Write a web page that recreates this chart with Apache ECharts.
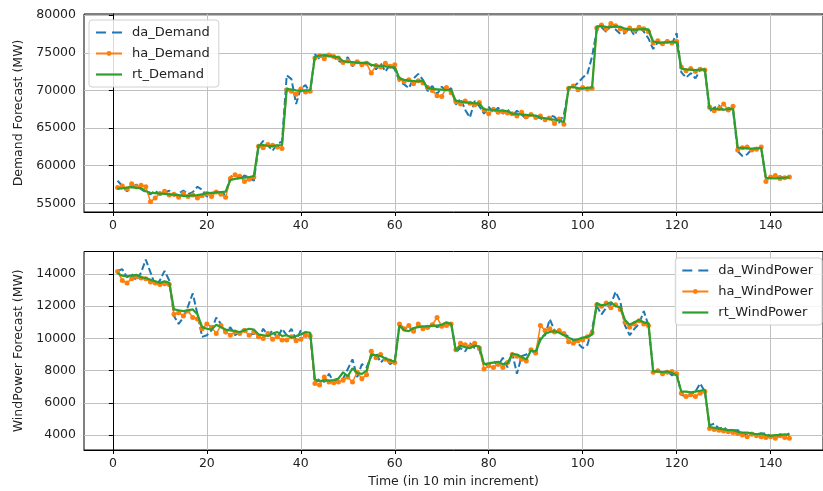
<!DOCTYPE html>
<html><head><meta charset="utf-8">
<script src="https://cdn.jsdelivr.net/npm/echarts@6/dist/echarts.min.js"></script>
<style>html,body{margin:0;padding:0;background:#fff}#c{width:823px;height:491px}</style>
</head><body><div id="c"></div>
<script>
const xTicks = [0,20,40,60,80,100,120,140];
const demandTicks = [55000,60000,65000,70000,75000,80000];
const windTicks = [4000,6000,8000,10000,12000,14000];

const daDemand = [
58000,57300,56600,57100,57500,56900, 56500,56200,56700,56100,56400,56700,
56000,56300,56700,56200,56500,57200, 56800,55900,56300,56600,56100,56300,
58500,58900,58200,58700,58400,58000, 62500,63300,62700,62000,62900,63200,
72000,71500,68200,70300,70700,69700, 74800,74200,74500,74900,74400,73900,
73700,74400,73200,73900,73500,73800, 73300,72800,73600,72500,73400,72800,
71200,70800,70300,71600,72200,71400, 69900,70600,69500,70500,69900,70300,
68100,68900,67400,66400,68600,67900, 66900,67800,67000,67700,66900,67500,
66600,67300,66800,66200,66900,66500, 66300,65900,66700,66500,65700,66800,
70100,70500,71000,71700,72200,74500, 78000,78400,77800,78600,78100,77500,
77600,78300,77300,78500,77800,76900, 75500,76400,76100,76700,76200,77600,
72400,71700,72300,71600,72700,72800, 67200,67700,68000,67300,67700,67400,
61900,61300,61500,62200,62400,62300, 58200,58500,58400,58600,58300,58600];

const haDemand = [
57100,57300,56900,57600,57200,57400, 57200,55200,55700,56300,56600,56100,
56200,55800,56300,55900,56100,55700, 56000,56300,55900,56500,56200,55800,
58300,58800,58600,57900,58200,58500, 62600,62400,62800,62700,62500,62300,
70100,69900,69500,70200,69800,69900, 74300,74600,74200,74700,74500,74300,
73700,73900,73500,73800,73400,73600, 72300,73300,73100,73600,73200,73400,
71500,71200,71400,70900,71300,71000, 70400,70000,69300,69200,70400,69700,
68500,68200,68600,68300,68100,68400, 67400,66900,67500,67100,67200,67000,
66900,66600,67100,66500,66800,66400, 66600,66100,66300,65600,66200,65500,
70300,70600,70100,70400,70200,70300, 78300,78700,78200,78900,78600,78200,
77900,78300,78000,78400,78200,77800, 76300,76600,76200,76500,76300,76500,
73100,72600,72900,72500,72800,72700, 67800,67300,67600,68200,67400,67900,
62100,62400,62500,62100,62200,62500, 57900,58500,58700,58300,58400,58500];

const rtDemand = [
56950,57000,57100,57150,57050,57000, 56600,56400,56350,56300,56250,56200,
56150,56100,56000,55980,56050,56100, 56200,56350,56400,56450,56500,56550,
58100,58250,58350,58400,58500,58600, 62700,62750,62650,62600,62700,62750,
70200,70100,70000,69950,70000,70050, 74500,74600,74700,74550,74500,74400,
73900,73800,73750,73700,73650,73700, 73400,73300,73250,73200,73100,73050,
71600,71400,71300,71250,71200,71300, 70300,70200,70150,70100,70050,70000,
68600,68500,68400,68350,68300,68250, 67500,67450,67400,67350,67300,67250,
66900,66850,66800,66750,66700,66650, 66400,66300,66200,66100,66000,65800,
70400,70450,70300,70250,70350,70400, 78500,78550,78450,78400,78500,78450,
78200,78100,78050,78100,78150,78100, 76500,76400,76350,76400,76450,76400,
72900,72800,72750,72700,72750,72800, 67600,67550,67500,67450,67500,67550,
62400,62350,62300,62250,62300,62350, 58400,58350,58300,58350,58400,58450];

const daWind = [
14200,14300,13800,14000,13600,14100, 14900,14100,13300,13600,14200,13600,
11400,10900,11300,12000,12800,11500, 10100,10200,10500,11300,10900,10300,
10700,10200,10400,10600,10200,10300, 10000,10600,10200,10500,10000,10600,
10200,10600,9900,10500,10100,10300, 7200,7500,7300,7800,7300,7400,
7500,8100,8700,7600,8400,8200, 8900,9100,8500,8800,8400,8600,
10900,10600,10700,10500,10800,10700, 10600,10900,10700,10800,10900,11000,
9150,9400,9200,9700,9400,9300, 8300,8400,8600,8300,8800,8200,
9100,7800,8900,9000,9300,9000, 10100,10200,11200,10500,10400,10300,
10100,9900,9700,9400,9600,10600, 12000,11500,11900,12100,12900,12300,
10800,10200,10600,10900,11700,10800, 8000,7900,7800,8000,7700,7900,
6500,6400,6500,6700,7200,6700, 4600,4700,4400,4500,4200,4300,
4300,4100,4000,4150,3900,4100, 4100,3900,3850,4050,3950,4100];

const haWind = [
14150,13600,13450,13700,13850,13750, 13700,13500,13450,13350,13400,13350,
11500,11600,11400,11700,11300,11200, 10600,10900,10700,10300,10800,10400,
10200,10400,10300,10500,10200,10400, 10100,10000,10300,9950,10100,9900,
9900,10100,9850,9950,10200,10150, 7200,7100,7600,7300,7250,7300,
7400,7600,7300,7900,7500,7750, 9200,8800,9000,8700,8600,8500,
10900,10600,10800,10450,10900,10600, 10700,10850,11300,10750,10800,10900,
9300,9700,9600,9500,9700,9400, 8100,8300,8200,8400,8200,8500,
9000,8900,8700,8600,9300,9100, 10800,10500,10600,10400,10500,10300,
9800,9700,9850,9900,10100,10350, 12100,12000,12200,11900,12100,11800,
11000,10700,10900,11100,10900,10800, 7900,8000,7800,7900,7950,7800,
6600,6400,6500,6400,6600,6700, 4400,4350,4300,4250,4200,4150,
4100,4000,3900,4050,3950,3900, 3850,3900,3800,3950,3850,3800];

const rtWind = [
14050,13900,13850,13900,13950,13800, 13750,13650,13550,13450,13550,13450,
11800,11750,11700,11750,11800,11500, 10700,10600,10550,10850,10700,10550,
10500,10450,10400,10500,10600,10550, 10250,10200,10150,10300,10400,10150,
10200,10050,10150,10250,10400,10350, 7450,7350,7400,7380,7420,7500,
7900,7650,8150,7850,7800,8000, 9000,8950,8900,8750,8650,8550,
10800,10500,10450,10650,10700,10750, 10750,10800,10800,10850,11000,10900,
9250,9550,9450,9400,9550,9500, 8400,8450,8500,8550,8400,8450,
9050,9000,8850,8700,9250,9200, 9900,10300,10400,10450,10350,10200,
10050,9900,9950,10050,10100,10250, 12200,12050,12100,12250,12000,11950,
11150,10850,11000,11150,11000,10950, 7950,7950,7900,7950,7850,7700,
6700,6700,6650,6700,6750,6800, 4500,4450,4400,4350,4300,4300,
4200,4150,4150,4100,4050,4100, 4000,3950,4000,4000,4050,4000];

const steps = daDemand.map((_, i) => i + 1);
const pairs = vals => vals.map((v, i) => [steps[i], v]);

const FONT = 'DejaVu Sans';
const FS = 12.5;
const TXT = '#222';
const BLUE = '#1f77b4', ORANGE = '#ff7f0e', GREEN = '#2ca02c';
const DASH_ICON = 'path://M0,0h10v2.2h-10zM16,0h10v2.2h-10z';
const SOLID_ICON = 'path://M0,0h26v2.2h-26z';

function xAxisCfg(gridIndex, withName) {
  return {
    type: 'value', gridIndex, min: -6.15, max: 151.15,
    axisLine: { show: true, onZero: false, lineStyle: { color: '#000', width: 1 } },
    axisTick: { show: true, inside: false, length: 4, customValues: xTicks, lineStyle: { color: '#000' } },
    axisLabel: { customValues: xTicks, color: TXT, fontFamily: FONT, fontSize: FS, margin: 7, formatter: v => String(v) },
    splitLine: { show: true, lineStyle: { color: '#c0c0c0', width: 1 } },
    name: withName ? 'Time (in 10 min increment)' : '',
    nameLocation: 'middle', nameGap: 25,
    nameTextStyle: { color: TXT, fontFamily: FONT, fontSize: FS }
  };
}
function yAxisCfg(gridIndex, min, max, ticks, name, gap) {
  return {
    type: 'value', gridIndex, min, max,
    axisLine: { show: true, lineStyle: { color: '#000', width: 1 } },
    axisTick: { show: true, inside: false, length: 4, customValues: ticks, lineStyle: { color: '#000' } },
    axisLabel: { customValues: ticks, color: TXT, fontFamily: FONT, fontSize: FS, margin: 8, formatter: v => String(v) },
    splitLine: { show: true, lineStyle: { color: '#c0c0c0', width: 1 } },
    name, nameLocation: 'middle', nameGap: gap, nameRotate: 90,
    nameTextStyle: { color: TXT, fontFamily: FONT, fontSize: FS }
  };
}
function daSeries(name, vals, idx) {
  return { name, type: 'line', xAxisIndex: idx, yAxisIndex: idx, data: pairs(vals),
    symbol: 'none',
    lineStyle: { color: BLUE, width: 2, type: [7, 3] }, itemStyle: { color: BLUE }, z: 2 };
}
function haSeries(name, vals, idx) {
  return { name, type: 'line', xAxisIndex: idx, yAxisIndex: idx, data: pairs(vals),
    symbol: 'circle', symbolSize: 5, showSymbol: true,
    lineStyle: { color: ORANGE, width: 1.5 }, itemStyle: { color: ORANGE }, z: 3 };
}
function rtSeries(name, vals, idx) {
  return { name, type: 'line', xAxisIndex: idx, yAxisIndex: idx, data: pairs(vals),
    symbol: 'none',
    lineStyle: { color: GREEN, width: 2.2 }, itemStyle: { color: GREEN }, z: 4 };
}
function legendData(da, ha, rt) {
  return [
    { name: da, icon: DASH_ICON, itemStyle: { color: BLUE, borderWidth: 0 } },
    { name: ha },
    { name: rt, icon: SOLID_ICON, itemStyle: { color: GREEN, borderWidth: 0 } }
  ];
}
const legendBase = {
  orient: 'vertical', itemWidth: 26, itemHeight: 6, itemGap: 8,
  backgroundColor: 'rgba(255,255,255,0.85)', borderColor: '#d0d0d0', borderWidth: 1, borderRadius: 3,
  padding: [6, 9, 6, 6],
  textStyle: { color: TXT, fontFamily: FONT, fontSize: 13, padding: [0, 0, 0, 5] }
};

const chart = echarts.init(document.getElementById('c'), null, { renderer: 'canvas' });
chart.setOption({
  animation: false,
  backgroundColor: '#fff',
  grid: [
    { left: 84, top: 14, width: 747, height: 198, show: true, borderColor: '#000', borderWidth: 1, backgroundColor: 'transparent' },
    { left: 84, top: 251.5, width: 747, height: 198.5, show: true, borderColor: '#000', borderWidth: 1, backgroundColor: 'transparent' }
  ],
  xAxis: [xAxisCfg(0, false), xAxisCfg(1, true)],
  yAxis: [
    yAxisCfg(0, 53850, 80150, demandTicks, 'Demand Forecast (MW)', 58),
    yAxisCfg(1, 3070, 15400, windTicks, 'WindPower Forecast (MW)', 58)
  ],
  legend: [
    Object.assign({}, legendBase, { left: 89, top: 20, data: legendData('da_Demand', 'ha_Demand', 'rt_Demand') }),
    Object.assign({}, legendBase, { right: 1, top: 258, data: legendData('da_WindPower', 'ha_WindPower', 'rt_WindPower') })
  ],
  series: [
    daSeries('da_Demand', daDemand, 0), haSeries('ha_Demand', haDemand, 0), rtSeries('rt_Demand', rtDemand, 0),
    daSeries('da_WindPower', daWind, 1), haSeries('ha_WindPower', haWind, 1), rtSeries('rt_WindPower', rtWind, 1)
  ]
});
</script></body></html>
